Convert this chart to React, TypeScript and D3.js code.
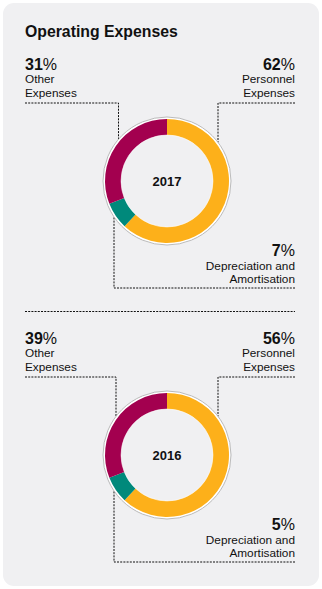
import React from "react";
import * as d3 from "d3";

const categories = ["Personnel Expenses", "Depreciation and Amortisation", "Other Expenses"];
const years = ["2017", "2016"];
// percentages printed in the labels
const labels2017 = [62, 7, 31];
const labels2016 = [56, 5, 39];
// shares as drawn in the rings of the reference picture
const ring2017 = [62, 7, 31];
const ring2016 = [62, 7, 31];
const colors = ["#FDB01A", "#00897B", "#A3004F"];

const FONT = "'Liberation Sans', Arial, Helvetica, sans-serif";

type DonutProps = { year: string; ring: number[]; labels: number[]; top: number; leftX: number };

function Donut({ year, ring, labels, top, leftX }: DonutProps) {
  const cx = 167;
  const cy = top + 78;
  const rOut = 62;
  const rIn = 46;
  const rRing = 64;
  const pie = d3.pie<number>().sort(null).value((d) => d);
  const arcs = pie(ring);
  const arc = d3.arc<d3.PieArcDatum<number>>().innerRadius(rIn).outerRadius(rOut);
  const dash = "2,1.2";
  const yAt = (x: number, sign: number) => cy + sign * Math.sqrt(rRing * rRing - (x - cx) * (x - cx));
  const lineTopY = top;
  const rightX = 218;
  const bottomX = 114;
  const bottomY = top + 185;
  const txt = (x: number, y: number, s: string, anchor: string) => (
    <text x={x} y={y} textAnchor={anchor} fontSize={11.8} fontFamily={FONT} fill="#111">{s}</text>
  );
  const pct = (x: number, y: number, v: number, anchor: string) => (
    <text x={x} y={y} textAnchor={anchor} fontSize={16} fontFamily={FONT} fill="#111">
      <tspan fontWeight="bold">{v}</tspan>%
    </text>
  );
  return (
    <g>
      <path d={`M25,${lineTopY}H${leftX}V${yAt(leftX, -1)}`} fill="none" stroke="#111" strokeWidth={1} strokeDasharray={dash} />
      <path d={`M295,${lineTopY}H${rightX}V${yAt(rightX, -1)}`} fill="none" stroke="#111" strokeWidth={1} strokeDasharray={dash} />
      <path d={`M295,${bottomY}H${bottomX}V${yAt(bottomX, 1)}`} fill="none" stroke="#111" strokeWidth={1} strokeDasharray={dash} />
      <circle cx={cx} cy={cy} r={rRing} fill="#fff" stroke="#aaa" strokeWidth={0.8} />
      <circle cx={cx} cy={cy} r={rIn} fill="#f0f0f2" />
      <g transform={`translate(${cx},${cy})`}>
        {arcs.map((a, i) => (
          <path key={i} d={arc(a) || ""} fill={colors[i]} />
        ))}
      </g>
      <circle cx={cx} cy={cy} r={rIn} fill="none" stroke="#fff" strokeWidth={0.5} />
      <text x={cx} y={cy + 4.5} textAnchor="middle" fontSize={13} fontWeight="bold" fontFamily={FONT} fill="#111">{year}</text>
      {pct(25, top - 33, labels[2], "start")}
      {txt(25, top - 20, "Other", "start")}
      {txt(25, top - 6, "Expenses", "start")}
      {pct(295, top - 33, labels[0], "end")}
      {txt(295, top - 20, "Personnel", "end")}
      {txt(295, top - 6, "Expenses", "end")}
      {pct(295, bottomY - 32, labels[1], "end")}
      {txt(295, bottomY - 18.5, "Depreciation and", "end")}
      {txt(295, bottomY - 5, "Amortisation", "end")}
    </g>
  );
}

export default function App() {
  return (
    <svg width={322} height={589} style={{ position: "absolute", left: 0, top: 0 }}>
      <rect x={0} y={0} width={322} height={589} fill="#fff" />
      <rect x={3} y={3} width={316} height={583} rx={11} fill="#f0f0f2" />
      <text x={25} y={37} fontSize={15.8} fontWeight="bold" fontFamily={FONT} fill="#111">Operating Expenses</text>
      <Donut year={years[0]} ring={ring2017} labels={labels2017} top={103} leftX={118.5} />
      <line x1={25} x2={295} y1={311.5} y2={311.5} stroke="#111" strokeWidth={1} strokeDasharray="2,1.2" />
      <Donut year={years[1]} ring={ring2016} labels={labels2016} top={377} leftX={116} />
    </svg>
  );
}
